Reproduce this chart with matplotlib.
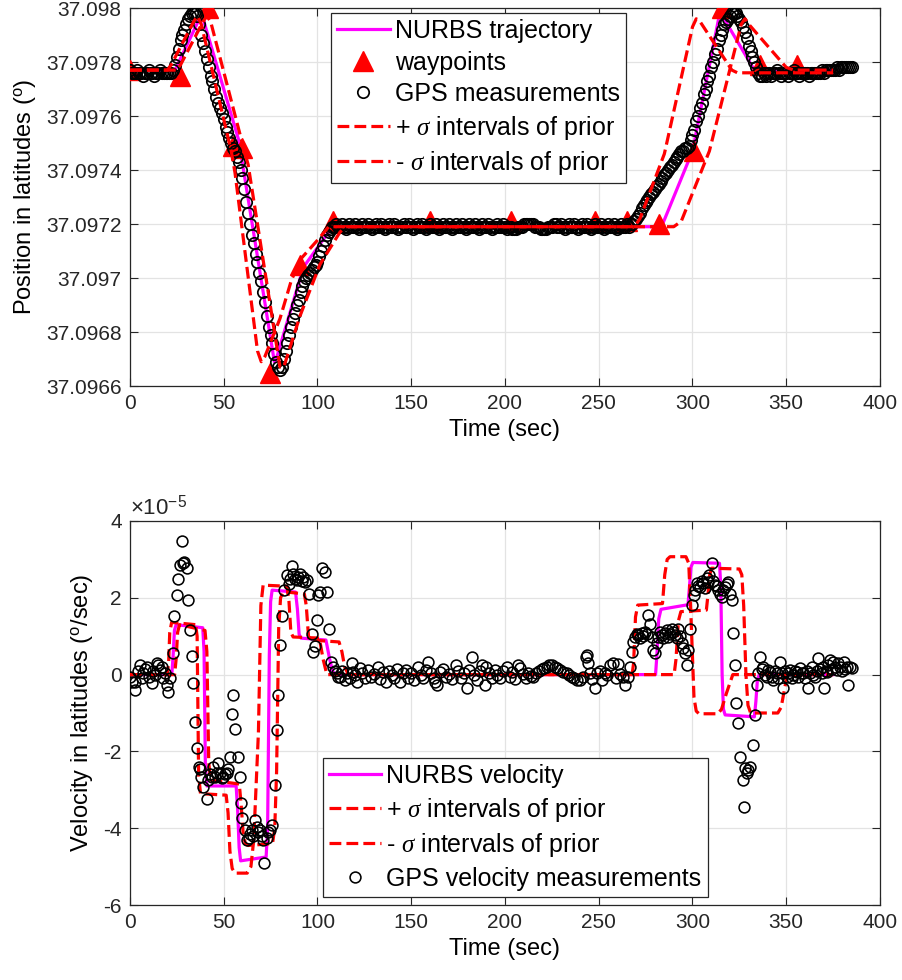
import numpy as np
import matplotlib
matplotlib.use('Agg')
import matplotlib.pyplot as plt
from matplotlib.ticker import FixedLocator, FuncFormatter

plt.rcParams['font.family'] = ['Liberation Sans', 'DejaVu Sans']
plt.rcParams['mathtext.fontset'] = 'custom'
plt.rcParams['mathtext.rm'] = 'Liberation Sans'
plt.rcParams['mathtext.it'] = 'Liberation Serif:italic'
plt.rcParams['mathtext.bf'] = 'Liberation Sans:bold'

# ---------------- top panel data ----------------
gps_time = np.arange(0, 386)
gps_lat = [
    37.09777, 37.09776, 37.09776, 37.09776, 37.09777, 37.09776, 37.09776, 37.09775, 37.09776, 37.09776,
    37.09777, 37.09776, 37.09776, 37.09775, 37.09776, 37.09776, 37.09777, 37.09776, 37.09776, 37.09776,
    37.09776, 37.09776, 37.09776, 37.09777, 37.09779, 37.09782, 37.09785, 37.09788, 37.09790, 37.09792,
    37.09794, 37.09796, 37.09797, 37.09798, 37.09798, 37.09798, 37.09797, 37.09794, 37.09790, 37.09787,
    37.09784, 37.09781, 37.09778, 37.09775, 37.09773, 37.09770, 37.09767, 37.09765, 37.09763, 37.09761,
    37.09759, 37.09756, 37.09754, 37.09752, 37.09750, 37.09748, 37.09747, 37.09745, 37.09743, 37.09740,
    37.09737, 37.09733, 37.09728, 37.09724, 37.09720, 37.09716, 37.09713, 37.09709, 37.09706, 37.09702,
    37.09699, 37.09695, 37.09691, 37.09686, 37.09682, 37.09679, 37.09676, 37.09672, 37.09669, 37.09667,
    37.09666, 37.09667, 37.09670, 37.09673, 37.09676, 37.09679, 37.09682, 37.09685, 37.09687, 37.09690,
    37.09692, 37.09695, 37.09697, 37.09699, 37.09700, 37.09701, 37.09702, 37.09703, 37.09704, 37.09705,
    37.09706, 37.09708, 37.09710, 37.09712, 37.09714, 37.09716, 37.09717, 37.09718, 37.09719, 37.09719,
    37.09720, 37.09719, 37.09719, 37.09720, 37.09719, 37.09718, 37.09719, 37.09720, 37.09719, 37.09719,
    37.09720, 37.09719, 37.09718, 37.09719, 37.09720, 37.09719, 37.09719, 37.09720, 37.09719, 37.09718,
    37.09719, 37.09720, 37.09719, 37.09719, 37.09720, 37.09719, 37.09718, 37.09719, 37.09720, 37.09719,
    37.09719, 37.09720, 37.09719, 37.09718, 37.09719, 37.09719, 37.09720, 37.09719, 37.09719, 37.09720,
    37.09719, 37.09718, 37.09719, 37.09720, 37.09719, 37.09719, 37.09720, 37.09719, 37.09718, 37.09719,
    37.09720, 37.09719, 37.09719, 37.09720, 37.09719, 37.09718, 37.09719, 37.09720, 37.09719, 37.09719,
    37.09720, 37.09719, 37.09718, 37.09719, 37.09720, 37.09719, 37.09719, 37.09720, 37.09719, 37.09718,
    37.09719, 37.09720, 37.09719, 37.09719, 37.09720, 37.09719, 37.09718, 37.09719, 37.09720, 37.09719,
    37.09719, 37.09720, 37.09719, 37.09718, 37.09719, 37.09719, 37.09720, 37.09719, 37.09719, 37.09720,
    37.09719, 37.09718, 37.09719, 37.09719, 37.09718, 37.09718, 37.09718, 37.09719, 37.09719, 37.09719,
    37.09720, 37.09720, 37.09720, 37.09720, 37.09720, 37.09720, 37.09719, 37.09719, 37.09719, 37.09718,
    37.09718, 37.09718, 37.09718, 37.09719, 37.09719, 37.09719, 37.09720, 37.09720, 37.09719, 37.09719,
    37.09720, 37.09719, 37.09718, 37.09719, 37.09720, 37.09719, 37.09719, 37.09720, 37.09719, 37.09718,
    37.09719, 37.09720, 37.09719, 37.09719, 37.09720, 37.09719, 37.09718, 37.09719, 37.09720, 37.09719,
    37.09719, 37.09720, 37.09719, 37.09718, 37.09719, 37.09720, 37.09719, 37.09719, 37.09720, 37.09719,
    37.09718, 37.09719, 37.09720, 37.09719, 37.09719, 37.09720, 37.09719, 37.09720, 37.09720, 37.09721,
    37.09722, 37.09723, 37.09724, 37.09726, 37.09727, 37.09728, 37.09729, 37.09730, 37.09731, 37.09732,
    37.09733, 37.09734, 37.09735, 37.09736, 37.09737, 37.09738, 37.09739, 37.09740, 37.09741, 37.09742,
    37.09743, 37.09744, 37.09745, 37.09746, 37.09747, 37.09747, 37.09748, 37.09748, 37.09749, 37.09751,
    37.09753, 37.09755, 37.09758, 37.09760, 37.09763, 37.09765, 37.09768, 37.09770, 37.09773, 37.09775,
    37.09778, 37.09780, 37.09783, 37.09785, 37.09788, 37.09790, 37.09792, 37.09794, 37.09795, 37.09796,
    37.09797, 37.09798, 37.09798, 37.09798, 37.09797, 37.09796, 37.09795, 37.09793, 37.09791, 37.09789,
    37.09786, 37.09784, 37.09782, 37.09780, 37.09778, 37.09776, 37.09775, 37.09775, 37.09776, 37.09775,
    37.09776, 37.09776, 37.09775, 37.09776, 37.09776, 37.09777, 37.09776, 37.09775, 37.09776, 37.09776,
    37.09776, 37.09775, 37.09776, 37.09776, 37.09777, 37.09776, 37.09776, 37.09775, 37.09776, 37.09776,
    37.09776, 37.09776, 37.09775, 37.09776, 37.09776, 37.09776, 37.09776, 37.09776, 37.09776, 37.09777,
    37.09776, 37.09777, 37.09777, 37.09777, 37.09777, 37.09777, 37.09777, 37.09778, 37.09777, 37.09778,
    37.09778, 37.09778, 37.09778, 37.09778, 37.09778, 37.09778,
]

traj_time = [0, 24, 37, 39, 58, 77, 78, 92.5, 108, 283.5, 300, 314.5, 316, 333, 375]
traj_lat = [37.09777, 37.09777, 37.09796, 37.09796, 37.09751, 37.09669, 37.09670, 37.09704,
            37.09719, 37.09719, 37.09747, 37.09798, 37.09797, 37.09777, 37.09777]

wp_time = [0, 26.5, 41.5, 55, 60, 74.5, 90.5, 108.5, 160, 203, 248, 265, 282, 301, 316, 336, 356]
wp_lat = [37.09777, 37.09775, 37.09800, 37.09749, 37.09748, 37.09665, 37.09705, 37.09721, 37.09721,
          37.09721, 37.09721, 37.09721, 37.09720, 37.09747, 37.09800, 37.09779, 37.09779]

plus_time = [0, 25, 27, 39, 41, 43, 61, 63, 80, 82, 90.7, 101.3, 112, 115, 290, 294, 309, 326, 328, 330, 350, 354, 375]
plus_lat = [37.09777, 37.09777, 37.09779, 37.09795, 37.09797, 37.09795, 37.09747, 37.09742, 37.09667,
            37.09667, 37.09686, 37.09705, 37.09717, 37.09719, 37.09719, 37.09721, 37.09747, 37.09794,
            37.09796, 37.09794, 37.09778, 37.09777, 37.09777]

minus_time = [0, 20, 22, 34, 36, 38, 54, 56, 68, 70, 72, 80, 86, 91, 100, 106, 269, 272, 285, 300, 302, 304, 321, 324, 375]
minus_lat = [37.09777, 37.09777, 37.09779, 37.09795, 37.09797, 37.09794, 37.09747, 37.09739, 37.09673,
             37.09669, 37.09671, 37.09685, 37.09699, 37.09707, 37.09714, 37.09719, 37.09719, 37.09722,
             37.09746, 37.09793, 37.09796, 37.09795, 37.09777, 37.09776, 37.09776]

lat_ticks = [37.0966, 37.0968, 37.0970, 37.0972, 37.0974, 37.0976, 37.0978, 37.0980]
time_ticks = [0, 50, 100, 150, 200, 250, 300, 350, 400]

# ---------------- bottom panel data (x 1e-5 deg/sec) ----------------
vel_traj_time = [0, 22.3, 23, 23.7, 24.6, 38.8, 39.5, 40.2, 41, 56.6, 57.4, 58.2, 59, 72.6, 73.4, 74.3,
                 75, 75.8, 88.3, 89.3, 90.2, 91.2, 104.5, 106.5, 108, 109.5, 280.3, 281, 282, 283.2,
                 297.6, 298.4, 299.2, 300.2, 314.4, 315.1, 315.8, 316.5, 317.4, 333, 333.8, 334.6, 335.6, 375]
vel_traj = [0, 0, 0.5, 1.15, 1.3, 1.22, 0.6, -2.4, -2.9, -2.9, -3.5, -4.5, -4.85, -4.75, -4.0, 0.5,
            1.9, 2.2, 2.15, 1.7, 1.05, 0.95, 0.9, 0.4, 0.1, 0, 0, 0.5, 1.45, 1.7,
            1.82, 2.3, 2.8, 2.92, 2.9, 2.3, 0.0, -0.9, -1.05, -1.1, -0.7, -0.15, 0, 0]

vel_plus_time = [0, 23.8, 24.6, 25.4, 26.4, 40, 41, 42, 43, 58.3, 59.3, 60.3, 61.5, 63, 76, 77.2, 78.2,
                 79.3, 80.3, 81.8, 93, 94, 95.2, 96.5, 111.5, 113, 114.5, 116.5, 290.2, 291.2, 292.5,
                 293.8, 307.4, 308.3, 309.2, 310.2, 325, 326.3, 327.3, 328.5, 329.6, 331, 345.5, 347.3,
                 349, 350.5, 375]
vel_plus = [0, 0, 0.4, 1.1, 1.3, 1.15, 0.6, -2.3, -2.75, -2.85, -3.4, -4.1, -4.4, -4.45, -4.4, -4.0, -2.5,
            1.2, 2.0, 2.16, 2.1, 1.8, 1.0, 0.9, 0.85, 0.6, 0.2, 0, 0, 0.4, 1.4,
            1.64, 1.68, 2.1, 2.6, 2.77, 2.75, 2.6, 1.8, 0.0, -0.8, -1.0, -1.0, -0.85,
            -0.4, 0, 0]

vel_minus_time = [0, 19.8, 20.6, 21.2, 22.2, 35, 35.8, 36.6, 37.6, 51.3, 52.3, 53.3, 54.5, 56, 62.5, 64.5,
                  66, 68.5, 69.8, 71, 83.8, 84.8, 85.8, 87, 101, 103, 105, 267.8, 268.6, 269.6, 270.8,
                  284, 285.2, 286.5, 288, 296.5, 298, 299.2, 300.8, 302, 303.5, 313.5, 315.5, 318,
                  321.5, 375]
vel_minus = [0, 0, 0.3, 1.1, 1.36, 1.3, 1.0, -2.6, -3.1, -3.14, -3.6, -4.6, -5.05, -5.17, -5.17, -5.0,
             -4.3, -1.5, 1.8, 2.33, 2.3, 1.9, 1.1, 0.98, 0.95, 0.4, 0, 0, 0.3, 1.5, 1.81,
             1.85, 2.6, 3.0, 3.07, 3.07, 2.9, 1.5, -0.6, -0.95, -1.02, -1.02, -0.9, -0.5,
             0, 0]

vel_gps_time = [
    0, 1.2, 2.7, 2.9, 4.2, 5.3, 6.3, 7.1, 8.2, 8.9, 10, 11.6, 12.4, 13.3, 14.2, 15.1, 16, 17, 17.8, 18.8,
    19.6, 20.4, 21.3,
    22.8, 23.6, 24.9, 25.8, 26.7, 27.9, 28.5, 29, 30.2, 31.1, 32, 32.9, 33.8, 34.7, 35.6, 36.8, 37.3,
    37.9, 39.1, 40.9, 41.8, 42.7, 43.6, 44.4, 45.3, 46.2, 47.1, 48, 48.9, 49.8, 50.7, 51.6, 52.4, 53.3,
    54.2, 55.1, 56, 57.8, 58.7, 59.2, 60, 61.3, 62.2, 63.5, 64.2, 64.9, 65.8, 66.7, 67.6, 68.4, 69.3,
    70.2, 71.1, 71.6, 72.9, 73.8, 74.7, 75.6, 77.3, 78.2, 79.1, 80, 81.2, 82.3, 83.6, 84.8, 85.5, 86.2,
    87.1, 88, 88.9, 89.8, 90.7, 91.5, 92.4, 93.3, 94.2, 95.6, 96.9, 97.8, 98.7, 99.6, 100.4, 101.5,
    102.6, 104, 104.9, 106.1, 107.2, 108.4, 109.3, 110.2, 111.1, 112, 113.3, 114.7, 116, 117.3, 118.2,
    119.1, 120,
    121, 122.5, 124, 125.5, 127, 128.5, 130, 132.4, 133.5, 135, 136.5, 138, 139.5, 141, 142.5, 144,
    145.5, 147, 148.5, 150, 151.5, 153.8, 155, 156.5, 158, 159, 160.5, 162, 162.7, 164, 165.5, 167,
    168.5, 170, 171.5, 174, 175, 176.5, 178, 179.6, 181, 182.2, 183.5, 185, 186.5, 187.6, 189.3, 190,
    191.5, 193, 194.5, 196, 197.5, 199, 201, 202.5, 204, 205.5, 207, 208, 209.5, 211, 212.5, 214,
    215.1, 216.5, 218, 219.5, 221, 222.2, 223.5, 225, 226.7, 228, 229.5, 231, 232.9, 234, 235.5, 237,
    238.5, 240, 241.5, 243, 243.6, 244.4, 245.5, 246.5, 248, 249, 250.5, 252, 253.5, 254.2, 256,
    257.8, 259, 260.4, 261.5,
    263.1, 264, 265.8, 266.7, 267.6, 268.4, 269.3, 270.2, 271.1, 272, 272.9, 273.8, 274.7, 275.5,
    276.4, 277.3, 278.2, 279.1, 280, 280.9, 281.8, 282.7, 283.6, 284.4, 285.3, 286.2, 287.1, 288,
    288.9, 289.8, 290.7, 291.5, 292.4, 293.3, 294.2, 295.1, 296, 296.9, 297.8, 298.7, 299.6, 300.8,
    301.5, 302.2, 303.1, 304, 304.9, 305.8, 306.7, 307.6, 308.3, 309, 310.2, 311.1, 312, 312.9, 313.8,
    314.7, 315.6, 316.4, 317.3, 318.2, 319.1, 320, 320.9, 321.8, 322.7, 323.2, 324.4, 325.3, 326.8,
    327.5, 328, 328.9, 329.8, 330.7, 332.4, 333.3, 334.2, 335.1, 336, 336.9, 337.8, 338.7, 339.6,
    340.4, 341.3, 342.2, 343.1, 344, 344.9, 345.8, 346.7, 347.5, 348.4, 349.3, 350.2, 351.1, 352,
    352.9, 353.8, 354.7, 355.6, 356.4, 357.3, 358.2, 359.1, 360, 360.9, 361.8, 362.7, 363.6, 364.4,
    365.3, 366.2, 367.1, 368, 368.9, 369.8, 370.1, 371, 371.6, 372.4, 373.3, 374.2, 375.1, 376,
    376.9, 377.8, 378.7, 379.6, 380.8, 381.5, 382.2, 383.1, 384, 384.9,
]
vel_gps = [
    -0.05, -0.2, -0.4, -0.19, 0.1, 0.24, -0.1, 0.03, 0.15, 0.2, -0.05, -0.23, 0.1, -0.02, 0.3, 0.24, 0.11,
    0.2, -0.1, 0.05, -0.27, -0.45, -0.1,
    0.55, 1.52, 2.07, 2.5, 2.85, 3.49, 2.9, 2.94, 2.77, 1.94, 1.16, 0.49, -0.21, -1.23, -1.92, -2.4,
    -2.45, -2.66, -2.92, -3.25, -2.75, -2.6, -2.66, -2.4, -2.66, -2.55, -2.31, -2.57, -2.7, -2.66,
    -2.6, -2.57, -2.45, -2.14, -1.03, -0.53, -1.42, -2.14, -2.66, -3.35, -3.74, -4.04, -4.3, -4.26,
    -4.15, -4.04, -4.2, -3.78, -3.96, -4.1, -4.04, -4.2, -4.3, -4.91, -4.26, -4.1, -4.04, -3.91,
    -2.87, -1.44, -0.53, 0.77, 1.53, 2.2, 2.59, 2.37, 2.5, 2.83, 2.63, 2.5, 2.46, 2.55, 2.63, 2.45,
    2.55, 2.4, 2.46, 2.11, 1.07, 0.6, 0.75, 1.42, 2.07, 2.15, 2.77, 2.68, 2.16, 1.2, 0.33, 0.2, 0.1,
    0.03, -0.05, -0.05, 0.1, -0.14, 0.05, -0.1, 0.29, 0.08, -0.02,
    -0.18, 0.17, 0.05, -0.1, 0.12, -0.05, 0.02, 0.21, -0.12, 0.08, -0.2, 0.1, 0.0, -0.08, 0.15, -0.18,
    0.05, 0.12, -0.1, 0.03, -0.15, 0.21, 0.0, -0.08, 0.12, 0.34, 0.05, -0.1, -0.18, -0.27, 0.08, 0.15,
    -0.05, 0.02, -0.12, 0.25, 0.1, -0.1, 0.05, -0.36, 0.12, 0.47, 0.0, -0.15, 0.1, 0.25, -0.27, 0.21,
    0.05, -0.1, 0.12, 0.0, -0.08, 0.1, 0.21, -0.05, 0.08, -0.12, 0.25, 0.17, 0.02, -0.1, 0.05, -0.03,
    -0.05, 0.05, 0.1, 0.15, 0.18, 0.2, 0.24, 0.25, 0.21, 0.17, 0.12, 0.06, 0.03, -0.02, -0.06, -0.1,
    -0.14, -0.14, -0.05, 0.45, 0.51, 0.29, 0.05, -0.12, -0.35, 0.03, 0.1, -0.15, 0.05, 0.0, 0.25,
    0.29, -0.08, 0.27, 0.02,
    -0.05, -0.27, -0.05, 0.21, 0.6, 0.86, 0.99, 1.05, 1.03, 0.95, 1.08, 1.0, 1.12, 1.05,
    1.55, 1.33, 0.99, 0.64, 0.55, 0.81, 0.99, 1.1, 1.03, 0.95, 1.08, 1.15, 0.99, 1.05,
    1.2, 1.1, 1.03, 0.95, 1.2, 1.0, 0.81, 0.7, 0.55, 0.25, 0.64, 1.2, 1.81, 2.07,
    2.2, 2.38, 2.3, 2.29, 2.45, 2.38, 2.25, 2.51, 2.4, 2.59, 2.9, 2.45, 2.33, 2.3, 2.2,
    2.1, 2.03, 2.2, 2.29, 2.35, 2.42, 2.1, 1.94, 1.08, 0.25, -0.75, -1.27, -2.14, -2.75,
    -3.44, -2.44, -2.55, -2.49, -2.4, -1.84, -1.06, -0.27, 0.03, 0.47, 0.15, 0.21, 0.0, -0.05,
    0.12, 0.08, -0.05, -0.14, 0.1, 0.03, -0.1, 0.34, 0.05, -0.36, 0.1, -0.05, 0.05, 0.12,
    -0.08, -0.01, 0.1, 0.08, -0.05, 0.16, 0.05, 0.03, -0.1, 0.1, -0.36, 0.05, 0.21, 0.0,
    -0.05, 0.1, 0.43, 0.15, 0.03, 0.2, -0.36, 0.1, 0.08, 0.25, 0.38, 0.15, 0.34, 0.2,
    0.12, 0.3, 0.21, 0.1, 0.34, 0.15, 0.21, -0.27, 0.2, 0.16,
]
vel_ticks = [-6, -4, -2, 0, 2, 4]

# ---------------- styling ----------------
AX_COLOR = '#262626'
GRID_COLOR = '#e3e3e3'
TICK_FS = 15
LABEL_FS = 17
LEG_FS = 18


def style_axes(ax):
    for s in ax.spines.values():
        s.set_color(AX_COLOR)
        s.set_linewidth(0.9)
    ax.tick_params(direction='in', top=True, right=True, length=5.5, width=0.8,
                   colors=AX_COLOR, labelcolor='#262626', labelsize=TICK_FS, pad=6)
    ax.grid(True, color=GRID_COLOR, linewidth=0.9)
    ax.set_axisbelow(True)


fig = plt.figure(figsize=(9.03, 9.80), dpi=100)

# Top panel
ax1 = fig.add_axes([0.14396, 0.60612, 0.83056, 0.38571])
ax1.plot(traj_time, traj_lat, color='#ff00ff', lw=2.3, label='NURBS trajectory', zorder=3)
ax1.plot(wp_time, wp_lat, linestyle='none', marker='^', ms=14, color='#ff0000',
         label='waypoints', zorder=4)
ax1.plot(gps_time, gps_lat, linestyle='none', marker='o', ms=8.2, mfc='none', mec='black',
         mew=1.25, label='GPS measurements', zorder=5)
ax1.plot(plus_time, plus_lat, color='#ff0000', lw=2.3, ls='--', label='+ $\\sigma$ intervals of prior', zorder=6)
ax1.plot(minus_time, minus_lat, color='#ff0000', lw=2.3, ls='--', label='- $\\sigma$ intervals of prior', zorder=6)
ax1.set_xlim(0, 400)
ax1.set_ylim(37.0966, 37.0980)
ax1.xaxis.set_major_locator(FixedLocator(time_ticks))
ax1.yaxis.set_major_locator(FixedLocator(lat_ticks))
ax1.yaxis.set_major_formatter(FuncFormatter(lambda v, p: ('%.4f' % v).rstrip('0').rstrip('.')))
style_axes(ax1)
ax1.set_xlabel('Time (sec)', fontsize=LABEL_FS, labelpad=4)
ax1.set_ylabel('Position in latitudes ($^{\\mathrm{o}}$)', fontsize=LABEL_FS, labelpad=6)
leg1 = ax1.legend(loc='upper left', bbox_to_anchor=(0.268, 0.987), borderaxespad=0,
                  fontsize=LEG_FS, frameon=True, fancybox=False, framealpha=1,
                  edgecolor=AX_COLOR, handlelength=2.1, handletextpad=0.2,
                  labelspacing=0.3, borderpad=0.25)
leg1.get_frame().set_linewidth(0.9)

# Bottom panel
ax2 = fig.add_axes([0.14396, 0.07653, 0.83056, 0.39184])
ax2.plot(vel_traj_time, vel_traj, color='#ff00ff', lw=2.3, label='NURBS velocity', zorder=3)
ax2.plot(vel_plus_time, vel_plus, color='#ff0000', lw=2.3, ls='--', label='+ $\\sigma$ intervals of prior', zorder=4)
ax2.plot(vel_minus_time, vel_minus, color='#ff0000', lw=2.3, ls='--', label='- $\\sigma$ intervals of prior', zorder=4)
ax2.plot(vel_gps_time, vel_gps, linestyle='none', marker='o', ms=7.8, mfc='none', mec='black',
         mew=1.15, label='GPS velocity measurements', zorder=5)
ax2.set_xlim(0, 400)
ax2.set_ylim(-6, 4)
ax2.xaxis.set_major_locator(FixedLocator(time_ticks))
ax2.yaxis.set_major_locator(FixedLocator(vel_ticks))
ax2.yaxis.set_major_formatter(FuncFormatter(lambda v, p: '%d' % v))
style_axes(ax2)
ax2.set_xlabel('Time (sec)', fontsize=LABEL_FS, labelpad=4)
ax2.set_ylabel('Velocity in latitudes ($^{\\mathrm{o}}$/sec)', fontsize=LABEL_FS, labelpad=6)
ax2.text(0.0, 1.004, '$\\times$10$^{-5}$', transform=ax2.transAxes, ha='left', va='bottom',
         fontsize=16, color='#262626')
leg2 = ax2.legend(loc='lower left', bbox_to_anchor=(0.257, 0.021), borderaxespad=0,
                  fontsize=LEG_FS, frameon=True, fancybox=False, framealpha=1,
                  edgecolor=AX_COLOR, handlelength=2.1, handletextpad=0.2,
                  labelspacing=0.3, borderpad=0.25)
leg2.get_frame().set_linewidth(0.9)

fig.savefig('out.png', dpi=100)
